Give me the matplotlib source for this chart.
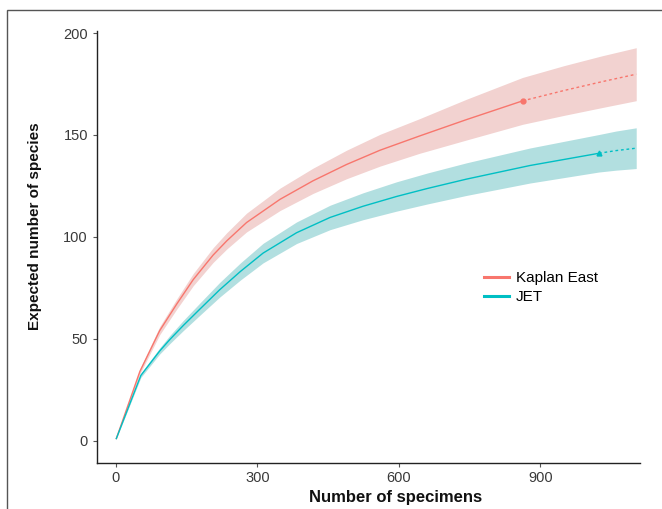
import matplotlib
matplotlib.use("Agg")
import matplotlib.pyplot as plt
from matplotlib.patches import Rectangle
import numpy as np

plt.rcParams['font.family'] = ['Liberation Sans', 'DejaVu Sans']

# Kaplan East - observed (rarefaction)
ke_x = [1, 51, 93, 129, 164, 206, 235, 277, 348, 418, 489, 560, 644, 743, 862]
ke_y = [1, 34, 54, 67, 79, 91, 98, 107, 118.4, 127.5, 135.5, 142.5, 149.5, 157.5, 166.7]
ke_hw = [0, 1.2, 2, 2.5, 3, 3.6, 4, 4.6, 5.5, 6.2, 7, 7.8, 8.5, 10, 11.5]
# Kaplan East - extrapolated
ke_ex_x = [862, 950, 1030, 1103]
ke_ex_y = [166.7, 171.8, 176.1, 179.8]
ke_ex_hw = [11.5, 12.2, 12.7, 13]

# JET - observed
jet_x = [1, 53, 93, 114, 143, 178, 220, 264, 312, 383, 454, 524, 595, 660, 743, 878, 1024]
jet_y = [1, 32, 44, 49.5, 56.5, 64.5, 74, 83, 92, 102, 109.5, 115, 119.8, 123.7, 128.3, 135, 141]
jet_hw = [0, 1, 1.5, 2, 2.5, 3, 3.6, 4.2, 4.8, 5.3, 6, 6.6, 7.2, 7.6, 8, 8.6, 9.2]
# JET - extrapolated
jet_ex_x = [1024, 1060, 1103]
jet_ex_y = [141, 142.3, 143.5]
jet_ex_hw = [9.2, 9.6, 10]

series = [
    ("Kaplan East", "#F8766D", "#F1CDCB", ke_x, ke_y, ke_hw, ke_ex_x, ke_ex_y, ke_ex_hw, "o"),
    ("JET", "#00BFC4", "#AADCDD", jet_x, jet_y, jet_hw, jet_ex_x, jet_ex_y, jet_ex_hw, "^"),
]

fig = plt.figure(figsize=(6.62, 5.09), dpi=100)
ax = fig.add_axes([97/662, 1-463/509, (640-97)/662, (463-31)/509])

for name, col, fcol, x, y, hw, ex, ey, ehw, mk in series:
    x = np.array(x); y = np.array(y); hw = np.array(hw)
    ex = np.array(ex); ey = np.array(ey); ehw = np.array(ehw)
    fx = np.concatenate([x, ex[1:]])
    fy = np.concatenate([y, ey[1:]])
    fh = np.concatenate([hw, ehw[1:]])
    ax.fill_between(fx, fy - fh, fy + fh, color=fcol, alpha=0.9, lw=0)
    ax.plot(x, y, color=col, lw=1.0, label=name)
    ax.plot(ex, ey, color=col, lw=1.0, ls=(0, (2, 2)))
    ax.plot([x[-1]], [y[-1]], marker=mk, color=col, ms=3.5, ls='none')

ax.set_xlim(-40, 1111)
ax.set_ylim(-11, 201)
ax.set_xticks([0, 300, 600, 900])
ax.set_yticks([0, 50, 100, 150, 200])
for s in ['top', 'right']:
    ax.spines[s].set_visible(False)
for s in ['left', 'bottom']:
    ax.spines[s].set_color('#222222')
    ax.spines[s].set_linewidth(1.0)
ax.tick_params(axis='both', length=3, color='#555555', labelsize=10.5,
               labelcolor='#3a3a3a', width=0.8)
ax.tick_params(axis='x', pad=2.5)

ax.set_xlabel("Number of specimens", fontsize=12, fontweight='bold', color='#111111')
ax.set_ylabel("Expected number of species", fontsize=11, fontweight='bold', color='#111111')
ax.xaxis.set_label_coords((396-97)/(640-97), -(490-463)/(463-31))
ax.yaxis.set_label_coords(-(97-42)/(640-97), (463-226)/(463-31))

leg = ax.legend(loc='upper left', bbox_to_anchor=((478-97)/(640-97), (463-265)/(463-31)),
                frameon=False, fontsize=11, handlelength=1.6, handletextpad=0.5,
                labelspacing=0.35, borderaxespad=0)
for l in leg.get_lines():
    l.set_linewidth(2.2)

fig.patches.append(Rectangle((7/662, -0.05), 1.1, 1 - 10/509 + 0.05,
                             transform=fig.transFigure, fill=False,
                             edgecolor='#555555', lw=1.0))

fig.savefig("out.png", dpi=100)
